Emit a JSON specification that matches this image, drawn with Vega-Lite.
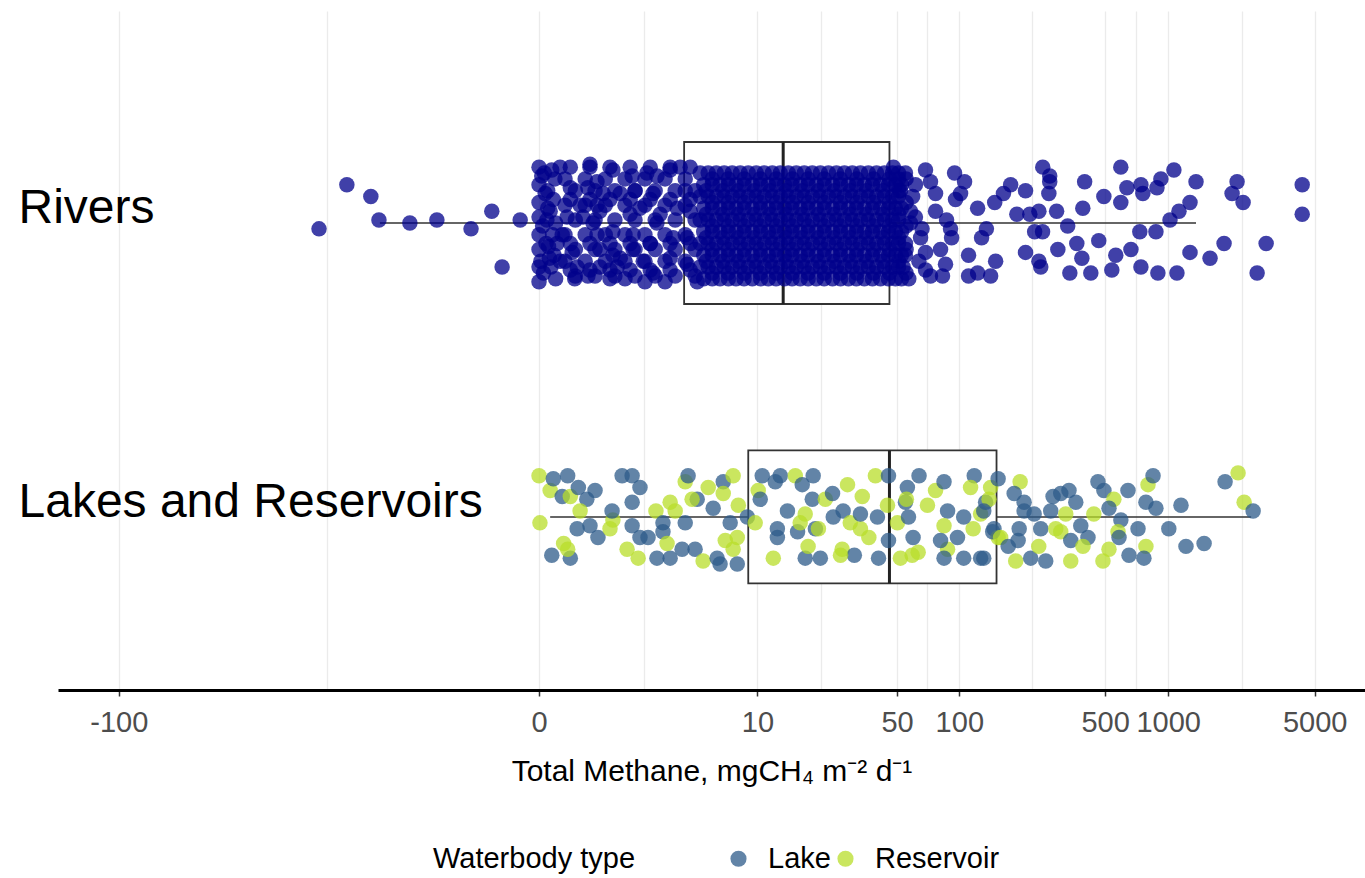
{
"$schema": "https://vega.github.io/schema/vega-lite/v6.json",
"width": 1307,
"height": 679,
"autosize": {"type": "none"},
"padding": {"left": 58, "top": 11, "right": 0, "bottom": 188},
"background": "white",
"config": {"view": {"stroke": null}, "font": "Liberation Sans"},
"datasets": {
"whisk": [
{"c":"Rivers","v":-4.74,"v2":3.92},{"c":"Rivers","v":45.9,"v2":1358},
{"c":"Lakes and Reservoirs","v":0.13,"v2":8.95},{"c":"Lakes and Reservoirs","v":151,"v2":2488}
],
"box": [
{"c":"Rivers","v":3.92,"v2":45.9},{"c":"Lakes and Reservoirs","v":8.95,"v2":151}
],
"med": [
{"c":"Rivers","v":13.6},{"c":"Lakes and Reservoirs","v":45.9}
],
"pts": [
{"c":"Rivers","t":"River","v":-10.2,"j":0.02},
{"c":"Rivers","t":"River","v":-7.25,"j":-0.13},
{"c":"Rivers","t":"River","v":-5.34,"j":-0.09},
{"c":"Rivers","t":"River","v":-4.8,"j":-0.01},
{"c":"Rivers","t":"River","v":-3.13,"j":0},
{"c":"Rivers","t":"River","v":-2.07,"j":-0.01},
{"c":"Rivers","t":"River","v":-1.11,"j":0.02},
{"c":"Rivers","t":"River","v":-0.68,"j":-0.04},
{"c":"Rivers","t":"River","v":-0.5,"j":0.15},
{"c":"Rivers","t":"River","v":-0.23,"j":-0.01},
{"c":"Rivers","t":"River","v":0,"j":-0.19},
{"c":"Rivers","t":"River","v":0.03,"j":-0.16},
{"c":"Rivers","t":"River","v":0,"j":-0.13},
{"c":"Rivers","t":"River","v":0.07,"j":-0.10},
{"c":"Rivers","t":"River","v":0,"j":-0.07},
{"c":"Rivers","t":"River","v":0.1,"j":-0.05},
{"c":"Rivers","t":"River","v":0,"j":-0.02},
{"c":"Rivers","t":"River","v":0.04,"j":0.01},
{"c":"Rivers","t":"River","v":0,"j":0.04},
{"c":"Rivers","t":"River","v":0.08,"j":0.07},
{"c":"Rivers","t":"River","v":0,"j":0.09},
{"c":"Rivers","t":"River","v":0.12,"j":0.12},
{"c":"Rivers","t":"River","v":0,"j":0.15},
{"c":"Rivers","t":"River","v":0.05,"j":0.17},
{"c":"Rivers","t":"River","v":0,"j":0.2},
{"c":"Rivers","t":"River","v":0.15,"j":-0.18},
{"c":"Rivers","t":"River","v":0.19,"j":-0.15},
{"c":"Rivers","t":"River","v":0.1,"j":-0.11},
{"c":"Rivers","t":"River","v":0.17,"j":-0.08},
{"c":"Rivers","t":"River","v":0.13,"j":-0.04},
{"c":"Rivers","t":"River","v":0.2,"j":0},
{"c":"Rivers","t":"River","v":0.16,"j":0.04},
{"c":"Rivers","t":"River","v":0.11,"j":0.08},
{"c":"Rivers","t":"River","v":0.18,"j":0.11},
{"c":"Rivers","t":"River","v":0.14,"j":0.15},
{"c":"Rivers","t":"River","v":0.2,"j":0.19},
{"c":"Rivers","t":"River","v":0.06,"j":-0.17},
{"c":"Rivers","t":"River","v":0.09,"j":-0.01},
{"c":"Rivers","t":"River","v":0.02,"j":0.13},
{"c":"Rivers","t":"River","v":0.22,"j":0.07},
{"c":"Rivers","t":"River","v":0.26,"j":-0.19},
{"c":"Rivers","t":"River","v":0.41,"j":-0.12},
{"c":"Rivers","t":"River","v":0.57,"j":-0.06},
{"c":"Rivers","t":"River","v":0.29,"j":0.04},
{"c":"Rivers","t":"River","v":0.44,"j":0.1},
{"c":"Rivers","t":"River","v":0.26,"j":0.13},
{"c":"Rivers","t":"River","v":0.52,"j":0.15},
{"c":"Rivers","t":"River","v":0.71,"j":0.18},
{"c":"Rivers","t":"River","v":0.95,"j":0.15},
{"c":"Rivers","t":"River","v":0.95,"j":0.09},
{"c":"Rivers","t":"River","v":0.89,"j":0.04},
{"c":"Rivers","t":"River","v":1.25,"j":0.03},
{"c":"Rivers","t":"River","v":1.25,"j":0.11},
{"c":"Rivers","t":"River","v":1.36,"j":0.15},
{"c":"Rivers","t":"River","v":1.18,"j":0.19},
{"c":"Rivers","t":"River","v":0.89,"j":-0.14},
{"c":"Rivers","t":"River","v":1.25,"j":-0.18},
{"c":"Rivers","t":"River","v":1.44,"j":-0.1},
{"c":"Rivers","t":"River","v":1.02,"j":-0.1},
{"c":"Rivers","t":"River","v":1.78,"j":-0.16},
{"c":"Rivers","t":"River","v":1.87,"j":-0.11},
{"c":"Rivers","t":"River","v":2.27,"j":-0.17},
{"c":"Rivers","t":"River","v":2.65,"j":-0.16},
{"c":"Rivers","t":"River","v":3.22,"j":-0.18},
{"c":"Rivers","t":"River","v":2.5,"j":-0.1},
{"c":"Rivers","t":"River","v":2.03,"j":-0.05},
{"c":"Rivers","t":"River","v":2.65,"j":0},
{"c":"Rivers","t":"River","v":1.81,"j":0.04},
{"c":"Rivers","t":"River","v":1.81,"j":0.09},
{"c":"Rivers","t":"River","v":2.39,"j":0.07},
{"c":"Rivers","t":"River","v":2.14,"j":0.13},
{"c":"Rivers","t":"River","v":2.5,"j":0.17},
{"c":"Rivers","t":"River","v":3.22,"j":0.12},
{"c":"Rivers","t":"River","v":3.36,"j":0.05},
{"c":"Rivers","t":"River","v":3.56,"j":-0.05},
{"c":"Rivers","t":"River","v":3.98,"j":-0.11},
{"c":"Rivers","t":"River","v":4.26,"j":-0.04},
{"c":"Rivers","t":"River","v":4.09,"j":0.05},
{"c":"Rivers","t":"River","v":4.09,"j":0.14},
{"c":"Rivers","t":"River","v":4.68,"j":0.2},
{"c":"Rivers","t":"River","v":2.78,"j":-0.03},
{"c":"Rivers","t":"River","v":1.72,"j":-0.03},
{"c":"Rivers","t":"River","v":0.62,"j":-0.02},
{"c":"Rivers","t":"River","v":0.36,"j":-0.02},
{"c":"Rivers","t":"River","v":0.81,"j":0},
{"c":"Rivers","t":"River","v":0.95,"j":-0.04},
{"c":"Rivers","t":"River","v":0.71,"j":-0.12},
{"c":"Rivers","t":"River","v":0.89,"j":-0.06},
{"c":"Rivers","t":"River","v":0.48,"j":0.19},
{"c":"Rivers","t":"River","v":0.75,"j":-0.2},
{"c":"Rivers","t":"River","v":1.57,"j":0.19},
{"c":"Rivers","t":"River","v":2.2,"j":0.2},
{"c":"Rivers","t":"River","v":2.99,"j":0.2},
{"c":"Rivers","t":"River","v":3.71,"j":-0.19},
{"c":"Rivers","t":"River","v":1.44,"j":0.12},
{"c":"Rivers","t":"River","v":0.33,"j":-0.15},{"c":"Rivers","t":"River","v":0.66,"j":-0.15},{"c":"Rivers","t":"River","v":1.07,"j":-0.15},{"c":"Rivers","t":"River","v":1.57,"j":-0.15},{"c":"Rivers","t":"River","v":2.2,"j":-0.15},{"c":"Rivers","t":"River","v":2.99,"j":-0.15},{"c":"Rivers","t":"River","v":3.98,"j":-0.15},
{"c":"Rivers","t":"River","v":0.33,"j":-0.06},{"c":"Rivers","t":"River","v":0.66,"j":-0.06},{"c":"Rivers","t":"River","v":1.07,"j":-0.06},{"c":"Rivers","t":"River","v":1.57,"j":-0.06},{"c":"Rivers","t":"River","v":2.2,"j":-0.06},{"c":"Rivers","t":"River","v":2.99,"j":-0.06},{"c":"Rivers","t":"River","v":3.98,"j":-0.06},
{"c":"Rivers","t":"River","v":0.33,"j":0.04},{"c":"Rivers","t":"River","v":0.66,"j":0.04},{"c":"Rivers","t":"River","v":1.07,"j":0.04},{"c":"Rivers","t":"River","v":1.57,"j":0.04},{"c":"Rivers","t":"River","v":2.2,"j":0.04},{"c":"Rivers","t":"River","v":2.99,"j":0.04},{"c":"Rivers","t":"River","v":3.98,"j":0.04},
{"c":"Rivers","t":"River","v":0.33,"j":0.13},{"c":"Rivers","t":"River","v":0.66,"j":0.13},{"c":"Rivers","t":"River","v":1.07,"j":0.13},{"c":"Rivers","t":"River","v":1.57,"j":0.13},{"c":"Rivers","t":"River","v":2.2,"j":0.13},{"c":"Rivers","t":"River","v":2.99,"j":0.13},{"c":"Rivers","t":"River","v":3.98,"j":0.13},
{"c":"Rivers","t":"River","v":0.49,"j":-0.11},{"c":"Rivers","t":"River","v":0.85,"j":-0.11},{"c":"Rivers","t":"River","v":1.3,"j":-0.11},{"c":"Rivers","t":"River","v":1.87,"j":-0.11},{"c":"Rivers","t":"River","v":2.58,"j":-0.11},{"c":"Rivers","t":"River","v":3.46,"j":-0.11},{"c":"Rivers","t":"River","v":4.55,"j":-0.11},
{"c":"Rivers","t":"River","v":0.49,"j":-0.01},{"c":"Rivers","t":"River","v":0.85,"j":-0.01},{"c":"Rivers","t":"River","v":1.3,"j":-0.01},{"c":"Rivers","t":"River","v":1.87,"j":-0.01},{"c":"Rivers","t":"River","v":2.58,"j":-0.01},{"c":"Rivers","t":"River","v":3.46,"j":-0.01},{"c":"Rivers","t":"River","v":4.55,"j":-0.01},
{"c":"Rivers","t":"River","v":0.49,"j":0.09},{"c":"Rivers","t":"River","v":0.85,"j":0.09},{"c":"Rivers","t":"River","v":1.3,"j":0.09},{"c":"Rivers","t":"River","v":1.87,"j":0.09},{"c":"Rivers","t":"River","v":2.58,"j":0.09},{"c":"Rivers","t":"River","v":3.46,"j":0.09},{"c":"Rivers","t":"River","v":4.55,"j":0.09},
{"c":"Rivers","t":"River","v":0.49,"j":0.18},{"c":"Rivers","t":"River","v":0.85,"j":0.18},{"c":"Rivers","t":"River","v":1.3,"j":0.18},{"c":"Rivers","t":"River","v":1.87,"j":0.18},{"c":"Rivers","t":"River","v":2.58,"j":0.18},{"c":"Rivers","t":"River","v":3.46,"j":0.18},{"c":"Rivers","t":"River","v":4.55,"j":0.18},
{"c":"Rivers","t":"River","v":0.41,"j":-0.19},{"c":"Rivers","t":"River","v":0.75,"j":-0.19},{"c":"Rivers","t":"River","v":1.18,"j":-0.19},{"c":"Rivers","t":"River","v":1.72,"j":-0.19},{"c":"Rivers","t":"River","v":2.39,"j":-0.19},{"c":"Rivers","t":"River","v":3.22,"j":-0.19},{"c":"Rivers","t":"River","v":4.26,"j":-0.19},
{"c":"Rivers","t":"River","v":0.41,"j":-0.08},{"c":"Rivers","t":"River","v":0.75,"j":-0.08},{"c":"Rivers","t":"River","v":1.18,"j":-0.08},{"c":"Rivers","t":"River","v":1.72,"j":-0.08},{"c":"Rivers","t":"River","v":2.39,"j":-0.08},{"c":"Rivers","t":"River","v":3.22,"j":-0.08},{"c":"Rivers","t":"River","v":4.26,"j":-0.08},
{"c":"Rivers","t":"River","v":0.41,"j":0.07},{"c":"Rivers","t":"River","v":0.75,"j":0.07},{"c":"Rivers","t":"River","v":1.18,"j":0.07},{"c":"Rivers","t":"River","v":1.72,"j":0.07},{"c":"Rivers","t":"River","v":2.39,"j":0.07},{"c":"Rivers","t":"River","v":3.22,"j":0.07},{"c":"Rivers","t":"River","v":4.26,"j":0.07},
{"c":"Rivers","t":"River","v":0.41,"j":0.16},{"c":"Rivers","t":"River","v":0.75,"j":0.16},{"c":"Rivers","t":"River","v":1.18,"j":0.16},{"c":"Rivers","t":"River","v":1.72,"j":0.16},{"c":"Rivers","t":"River","v":2.39,"j":0.16},{"c":"Rivers","t":"River","v":3.22,"j":0.16},{"c":"Rivers","t":"River","v":4.26,"j":0.16},
{"c":"Rivers","t":"River","v":4.87,"j":-0.17},{"c":"Rivers","t":"River","v":5.41,"j":-0.17},{"c":"Rivers","t":"River","v":6.0,"j":-0.17},{"c":"Rivers","t":"River","v":6.64,"j":-0.17},{"c":"Rivers","t":"River","v":7.34,"j":-0.17},{"c":"Rivers","t":"River","v":8.11,"j":-0.17},{"c":"Rivers","t":"River","v":8.95,"j":-0.17},{"c":"Rivers","t":"River","v":9.86,"j":-0.17},{"c":"Rivers","t":"River","v":10.86,"j":-0.17},{"c":"Rivers","t":"River","v":11.96,"j":-0.17},{"c":"Rivers","t":"River","v":13.14,"j":-0.17},{"c":"Rivers","t":"River","v":14.45,"j":-0.17},{"c":"Rivers","t":"River","v":15.86,"j":-0.17},{"c":"Rivers","t":"River","v":17.4,"j":-0.17},{"c":"Rivers","t":"River","v":19.1,"j":-0.17},{"c":"Rivers","t":"River","v":20.96,"j":-0.17},{"c":"Rivers","t":"River","v":23.0,"j":-0.17},{"c":"Rivers","t":"River","v":25.2,"j":-0.17},{"c":"Rivers","t":"River","v":27.6,"j":-0.17},{"c":"Rivers","t":"River","v":30.2,"j":-0.17},{"c":"Rivers","t":"River","v":33.1,"j":-0.17},{"c":"Rivers","t":"River","v":36.2,"j":-0.17},{"c":"Rivers","t":"River","v":39.7,"j":-0.17},{"c":"Rivers","t":"River","v":43.4,"j":-0.17},{"c":"Rivers","t":"River","v":47.5,"j":-0.17},{"c":"Rivers","t":"River","v":50.8,"j":-0.17},
{"c":"Rivers","t":"River","v":5.1,"j":-0.13},{"c":"Rivers","t":"River","v":5.7,"j":-0.13},{"c":"Rivers","t":"River","v":6.3,"j":-0.13},{"c":"Rivers","t":"River","v":7.0,"j":-0.13},{"c":"Rivers","t":"River","v":7.7,"j":-0.13},{"c":"Rivers","t":"River","v":8.5,"j":-0.13},{"c":"Rivers","t":"River","v":9.4,"j":-0.13},{"c":"Rivers","t":"River","v":10.4,"j":-0.13},{"c":"Rivers","t":"River","v":11.4,"j":-0.13},{"c":"Rivers","t":"River","v":12.5,"j":-0.13},{"c":"Rivers","t":"River","v":13.8,"j":-0.13},{"c":"Rivers","t":"River","v":15.1,"j":-0.13},{"c":"Rivers","t":"River","v":16.6,"j":-0.13},{"c":"Rivers","t":"River","v":18.2,"j":-0.13},{"c":"Rivers","t":"River","v":20,"j":-0.13},{"c":"Rivers","t":"River","v":21.9,"j":-0.13},{"c":"Rivers","t":"River","v":24.1,"j":-0.13},{"c":"Rivers","t":"River","v":26.4,"j":-0.13},{"c":"Rivers","t":"River","v":28.9,"j":-0.13},{"c":"Rivers","t":"River","v":31.6,"j":-0.13},{"c":"Rivers","t":"River","v":34.6,"j":-0.13},{"c":"Rivers","t":"River","v":37.9,"j":-0.13},{"c":"Rivers","t":"River","v":41.5,"j":-0.13},{"c":"Rivers","t":"River","v":45.4,"j":-0.13},{"c":"Rivers","t":"River","v":49.1,"j":-0.13},{"c":"Rivers","t":"River","v":52.5,"j":-0.13},
{"c":"Rivers","t":"River","v":4.87,"j":-0.09},{"c":"Rivers","t":"River","v":5.41,"j":-0.09},{"c":"Rivers","t":"River","v":6.0,"j":-0.09},{"c":"Rivers","t":"River","v":6.64,"j":-0.09},{"c":"Rivers","t":"River","v":7.34,"j":-0.09},{"c":"Rivers","t":"River","v":8.11,"j":-0.09},{"c":"Rivers","t":"River","v":8.95,"j":-0.09},{"c":"Rivers","t":"River","v":9.86,"j":-0.09},{"c":"Rivers","t":"River","v":10.86,"j":-0.09},{"c":"Rivers","t":"River","v":11.96,"j":-0.09},{"c":"Rivers","t":"River","v":13.14,"j":-0.09},{"c":"Rivers","t":"River","v":14.45,"j":-0.09},{"c":"Rivers","t":"River","v":15.86,"j":-0.09},{"c":"Rivers","t":"River","v":17.4,"j":-0.09},{"c":"Rivers","t":"River","v":19.1,"j":-0.09},{"c":"Rivers","t":"River","v":20.96,"j":-0.09},{"c":"Rivers","t":"River","v":23.0,"j":-0.09},{"c":"Rivers","t":"River","v":25.2,"j":-0.09},{"c":"Rivers","t":"River","v":27.6,"j":-0.09},{"c":"Rivers","t":"River","v":30.2,"j":-0.09},{"c":"Rivers","t":"River","v":33.1,"j":-0.09},{"c":"Rivers","t":"River","v":36.2,"j":-0.09},{"c":"Rivers","t":"River","v":39.7,"j":-0.09},{"c":"Rivers","t":"River","v":43.4,"j":-0.09},{"c":"Rivers","t":"River","v":47.5,"j":-0.09},{"c":"Rivers","t":"River","v":50.8,"j":-0.09},
{"c":"Rivers","t":"River","v":5.1,"j":-0.05},{"c":"Rivers","t":"River","v":5.7,"j":-0.05},{"c":"Rivers","t":"River","v":6.3,"j":-0.05},{"c":"Rivers","t":"River","v":7.0,"j":-0.05},{"c":"Rivers","t":"River","v":7.7,"j":-0.05},{"c":"Rivers","t":"River","v":8.5,"j":-0.05},{"c":"Rivers","t":"River","v":9.4,"j":-0.05},{"c":"Rivers","t":"River","v":10.4,"j":-0.05},{"c":"Rivers","t":"River","v":11.4,"j":-0.05},{"c":"Rivers","t":"River","v":12.5,"j":-0.05},{"c":"Rivers","t":"River","v":13.8,"j":-0.05},{"c":"Rivers","t":"River","v":15.1,"j":-0.05},{"c":"Rivers","t":"River","v":16.6,"j":-0.05},{"c":"Rivers","t":"River","v":18.2,"j":-0.05},{"c":"Rivers","t":"River","v":20,"j":-0.05},{"c":"Rivers","t":"River","v":21.9,"j":-0.05},{"c":"Rivers","t":"River","v":24.1,"j":-0.05},{"c":"Rivers","t":"River","v":26.4,"j":-0.05},{"c":"Rivers","t":"River","v":28.9,"j":-0.05},{"c":"Rivers","t":"River","v":31.6,"j":-0.05},{"c":"Rivers","t":"River","v":34.6,"j":-0.05},{"c":"Rivers","t":"River","v":37.9,"j":-0.05},{"c":"Rivers","t":"River","v":41.5,"j":-0.05},{"c":"Rivers","t":"River","v":45.4,"j":-0.05},{"c":"Rivers","t":"River","v":49.1,"j":-0.05},{"c":"Rivers","t":"River","v":52.5,"j":-0.05},
{"c":"Rivers","t":"River","v":4.87,"j":-0.01},{"c":"Rivers","t":"River","v":5.41,"j":-0.01},{"c":"Rivers","t":"River","v":6.0,"j":-0.01},{"c":"Rivers","t":"River","v":6.64,"j":-0.01},{"c":"Rivers","t":"River","v":7.34,"j":-0.01},{"c":"Rivers","t":"River","v":8.11,"j":-0.01},{"c":"Rivers","t":"River","v":8.95,"j":-0.01},{"c":"Rivers","t":"River","v":9.86,"j":-0.01},{"c":"Rivers","t":"River","v":10.86,"j":-0.01},{"c":"Rivers","t":"River","v":11.96,"j":-0.01},{"c":"Rivers","t":"River","v":13.14,"j":-0.01},{"c":"Rivers","t":"River","v":14.45,"j":-0.01},{"c":"Rivers","t":"River","v":15.86,"j":-0.01},{"c":"Rivers","t":"River","v":17.4,"j":-0.01},{"c":"Rivers","t":"River","v":19.1,"j":-0.01},{"c":"Rivers","t":"River","v":20.96,"j":-0.01},{"c":"Rivers","t":"River","v":23.0,"j":-0.01},{"c":"Rivers","t":"River","v":25.2,"j":-0.01},{"c":"Rivers","t":"River","v":27.6,"j":-0.01},{"c":"Rivers","t":"River","v":30.2,"j":-0.01},{"c":"Rivers","t":"River","v":33.1,"j":-0.01},{"c":"Rivers","t":"River","v":36.2,"j":-0.01},{"c":"Rivers","t":"River","v":39.7,"j":-0.01},{"c":"Rivers","t":"River","v":43.4,"j":-0.01},{"c":"Rivers","t":"River","v":47.5,"j":-0.01},{"c":"Rivers","t":"River","v":50.8,"j":-0.01},
{"c":"Rivers","t":"River","v":5.1,"j":0.03},{"c":"Rivers","t":"River","v":5.7,"j":0.03},{"c":"Rivers","t":"River","v":6.3,"j":0.03},{"c":"Rivers","t":"River","v":7.0,"j":0.03},{"c":"Rivers","t":"River","v":7.7,"j":0.03},{"c":"Rivers","t":"River","v":8.5,"j":0.03},{"c":"Rivers","t":"River","v":9.4,"j":0.03},{"c":"Rivers","t":"River","v":10.4,"j":0.03},{"c":"Rivers","t":"River","v":11.4,"j":0.03},{"c":"Rivers","t":"River","v":12.5,"j":0.03},{"c":"Rivers","t":"River","v":13.8,"j":0.03},{"c":"Rivers","t":"River","v":15.1,"j":0.03},{"c":"Rivers","t":"River","v":16.6,"j":0.03},{"c":"Rivers","t":"River","v":18.2,"j":0.03},{"c":"Rivers","t":"River","v":20,"j":0.03},{"c":"Rivers","t":"River","v":21.9,"j":0.03},{"c":"Rivers","t":"River","v":24.1,"j":0.03},{"c":"Rivers","t":"River","v":26.4,"j":0.03},{"c":"Rivers","t":"River","v":28.9,"j":0.03},{"c":"Rivers","t":"River","v":31.6,"j":0.03},{"c":"Rivers","t":"River","v":34.6,"j":0.03},{"c":"Rivers","t":"River","v":37.9,"j":0.03},{"c":"Rivers","t":"River","v":41.5,"j":0.03},{"c":"Rivers","t":"River","v":45.4,"j":0.03},{"c":"Rivers","t":"River","v":49.1,"j":0.03},{"c":"Rivers","t":"River","v":52.5,"j":0.03},
{"c":"Rivers","t":"River","v":4.87,"j":0.07},{"c":"Rivers","t":"River","v":5.41,"j":0.07},{"c":"Rivers","t":"River","v":6.0,"j":0.07},{"c":"Rivers","t":"River","v":6.64,"j":0.07},{"c":"Rivers","t":"River","v":7.34,"j":0.07},{"c":"Rivers","t":"River","v":8.11,"j":0.07},{"c":"Rivers","t":"River","v":8.95,"j":0.07},{"c":"Rivers","t":"River","v":9.86,"j":0.07},{"c":"Rivers","t":"River","v":10.86,"j":0.07},{"c":"Rivers","t":"River","v":11.96,"j":0.07},{"c":"Rivers","t":"River","v":13.14,"j":0.07},{"c":"Rivers","t":"River","v":14.45,"j":0.07},{"c":"Rivers","t":"River","v":15.86,"j":0.07},{"c":"Rivers","t":"River","v":17.4,"j":0.07},{"c":"Rivers","t":"River","v":19.1,"j":0.07},{"c":"Rivers","t":"River","v":20.96,"j":0.07},{"c":"Rivers","t":"River","v":23.0,"j":0.07},{"c":"Rivers","t":"River","v":25.2,"j":0.07},{"c":"Rivers","t":"River","v":27.6,"j":0.07},{"c":"Rivers","t":"River","v":30.2,"j":0.07},{"c":"Rivers","t":"River","v":33.1,"j":0.07},{"c":"Rivers","t":"River","v":36.2,"j":0.07},{"c":"Rivers","t":"River","v":39.7,"j":0.07},{"c":"Rivers","t":"River","v":43.4,"j":0.07},{"c":"Rivers","t":"River","v":47.5,"j":0.07},{"c":"Rivers","t":"River","v":50.8,"j":0.07},
{"c":"Rivers","t":"River","v":5.1,"j":0.11},{"c":"Rivers","t":"River","v":5.7,"j":0.11},{"c":"Rivers","t":"River","v":6.3,"j":0.11},{"c":"Rivers","t":"River","v":7.0,"j":0.11},{"c":"Rivers","t":"River","v":7.7,"j":0.11},{"c":"Rivers","t":"River","v":8.5,"j":0.11},{"c":"Rivers","t":"River","v":9.4,"j":0.11},{"c":"Rivers","t":"River","v":10.4,"j":0.11},{"c":"Rivers","t":"River","v":11.4,"j":0.11},{"c":"Rivers","t":"River","v":12.5,"j":0.11},{"c":"Rivers","t":"River","v":13.8,"j":0.11},{"c":"Rivers","t":"River","v":15.1,"j":0.11},{"c":"Rivers","t":"River","v":16.6,"j":0.11},{"c":"Rivers","t":"River","v":18.2,"j":0.11},{"c":"Rivers","t":"River","v":20,"j":0.11},{"c":"Rivers","t":"River","v":21.9,"j":0.11},{"c":"Rivers","t":"River","v":24.1,"j":0.11},{"c":"Rivers","t":"River","v":26.4,"j":0.11},{"c":"Rivers","t":"River","v":28.9,"j":0.11},{"c":"Rivers","t":"River","v":31.6,"j":0.11},{"c":"Rivers","t":"River","v":34.6,"j":0.11},{"c":"Rivers","t":"River","v":37.9,"j":0.11},{"c":"Rivers","t":"River","v":41.5,"j":0.11},{"c":"Rivers","t":"River","v":45.4,"j":0.11},{"c":"Rivers","t":"River","v":49.1,"j":0.11},{"c":"Rivers","t":"River","v":52.5,"j":0.11},
{"c":"Rivers","t":"River","v":4.87,"j":0.15},{"c":"Rivers","t":"River","v":5.41,"j":0.15},{"c":"Rivers","t":"River","v":6.0,"j":0.15},{"c":"Rivers","t":"River","v":6.64,"j":0.15},{"c":"Rivers","t":"River","v":7.34,"j":0.15},{"c":"Rivers","t":"River","v":8.11,"j":0.15},{"c":"Rivers","t":"River","v":8.95,"j":0.15},{"c":"Rivers","t":"River","v":9.86,"j":0.15},{"c":"Rivers","t":"River","v":10.86,"j":0.15},{"c":"Rivers","t":"River","v":11.96,"j":0.15},{"c":"Rivers","t":"River","v":13.14,"j":0.15},{"c":"Rivers","t":"River","v":14.45,"j":0.15},{"c":"Rivers","t":"River","v":15.86,"j":0.15},{"c":"Rivers","t":"River","v":17.4,"j":0.15},{"c":"Rivers","t":"River","v":19.1,"j":0.15},{"c":"Rivers","t":"River","v":20.96,"j":0.15},{"c":"Rivers","t":"River","v":23.0,"j":0.15},{"c":"Rivers","t":"River","v":25.2,"j":0.15},{"c":"Rivers","t":"River","v":27.6,"j":0.15},{"c":"Rivers","t":"River","v":30.2,"j":0.15},{"c":"Rivers","t":"River","v":33.1,"j":0.15},{"c":"Rivers","t":"River","v":36.2,"j":0.15},{"c":"Rivers","t":"River","v":39.7,"j":0.15},{"c":"Rivers","t":"River","v":43.4,"j":0.15},{"c":"Rivers","t":"River","v":47.5,"j":0.15},{"c":"Rivers","t":"River","v":50.8,"j":0.15},
{"c":"Rivers","t":"River","v":5.1,"j":0.19},{"c":"Rivers","t":"River","v":5.7,"j":0.19},{"c":"Rivers","t":"River","v":6.3,"j":0.19},{"c":"Rivers","t":"River","v":7.0,"j":0.19},{"c":"Rivers","t":"River","v":7.7,"j":0.19},{"c":"Rivers","t":"River","v":8.5,"j":0.19},{"c":"Rivers","t":"River","v":9.4,"j":0.19},{"c":"Rivers","t":"River","v":10.4,"j":0.19},{"c":"Rivers","t":"River","v":11.4,"j":0.19},{"c":"Rivers","t":"River","v":12.5,"j":0.19},{"c":"Rivers","t":"River","v":13.8,"j":0.19},{"c":"Rivers","t":"River","v":15.1,"j":0.19},{"c":"Rivers","t":"River","v":16.6,"j":0.19},{"c":"Rivers","t":"River","v":18.2,"j":0.19},{"c":"Rivers","t":"River","v":20,"j":0.19},{"c":"Rivers","t":"River","v":21.9,"j":0.19},{"c":"Rivers","t":"River","v":24.1,"j":0.19},{"c":"Rivers","t":"River","v":26.4,"j":0.19},{"c":"Rivers","t":"River","v":28.9,"j":0.19},{"c":"Rivers","t":"River","v":31.6,"j":0.19},{"c":"Rivers","t":"River","v":34.6,"j":0.19},{"c":"Rivers","t":"River","v":37.9,"j":0.19},{"c":"Rivers","t":"River","v":41.5,"j":0.19},{"c":"Rivers","t":"River","v":45.4,"j":0.19},{"c":"Rivers","t":"River","v":49.1,"j":0.19},{"c":"Rivers","t":"River","v":52.5,"j":0.19},
{"c":"Rivers","t":"River","v":5.7,"j":-0.15},{"c":"Rivers","t":"River","v":6.98,"j":-0.15},{"c":"Rivers","t":"River","v":8.52,"j":-0.15},{"c":"Rivers","t":"River","v":10.35,"j":-0.15},{"c":"Rivers","t":"River","v":12.53,"j":-0.15},{"c":"Rivers","t":"River","v":15.15,"j":-0.15},{"c":"Rivers","t":"River","v":18.2,"j":-0.15},{"c":"Rivers","t":"River","v":21.9,"j":-0.15},{"c":"Rivers","t":"River","v":26.36,"j":-0.15},{"c":"Rivers","t":"River","v":31.8,"j":-0.15},{"c":"Rivers","t":"River","v":38.4,"j":-0.15},{"c":"Rivers","t":"River","v":45.9,"j":-0.15},{"c":"Rivers","t":"River","v":55.3,"j":-0.15},
{"c":"Rivers","t":"River","v":5.27,"j":-0.11},{"c":"Rivers","t":"River","v":6.52,"j":-0.11},{"c":"Rivers","t":"River","v":7.92,"j":-0.11},{"c":"Rivers","t":"River","v":9.63,"j":-0.11},{"c":"Rivers","t":"River","v":11.67,"j":-0.11},{"c":"Rivers","t":"River","v":14.1,"j":-0.11},{"c":"Rivers","t":"River","v":17.0,"j":-0.11},{"c":"Rivers","t":"River","v":20.5,"j":-0.11},{"c":"Rivers","t":"River","v":24.6,"j":-0.11},{"c":"Rivers","t":"River","v":29.54,"j":-0.11},{"c":"Rivers","t":"River","v":35.4,"j":-0.11},{"c":"Rivers","t":"River","v":42.6,"j":-0.11},{"c":"Rivers","t":"River","v":50.9,"j":-0.11},
{"c":"Rivers","t":"River","v":5.7,"j":-0.07},{"c":"Rivers","t":"River","v":6.98,"j":-0.07},{"c":"Rivers","t":"River","v":8.52,"j":-0.07},{"c":"Rivers","t":"River","v":10.35,"j":-0.07},{"c":"Rivers","t":"River","v":12.53,"j":-0.07},{"c":"Rivers","t":"River","v":15.15,"j":-0.07},{"c":"Rivers","t":"River","v":18.2,"j":-0.07},{"c":"Rivers","t":"River","v":21.9,"j":-0.07},{"c":"Rivers","t":"River","v":26.36,"j":-0.07},{"c":"Rivers","t":"River","v":31.8,"j":-0.07},{"c":"Rivers","t":"River","v":38.4,"j":-0.07},{"c":"Rivers","t":"River","v":45.9,"j":-0.07},{"c":"Rivers","t":"River","v":55.3,"j":-0.07},
{"c":"Rivers","t":"River","v":5.27,"j":-0.03},{"c":"Rivers","t":"River","v":6.52,"j":-0.03},{"c":"Rivers","t":"River","v":7.92,"j":-0.03},{"c":"Rivers","t":"River","v":9.63,"j":-0.03},{"c":"Rivers","t":"River","v":11.67,"j":-0.03},{"c":"Rivers","t":"River","v":14.1,"j":-0.03},{"c":"Rivers","t":"River","v":17.0,"j":-0.03},{"c":"Rivers","t":"River","v":20.5,"j":-0.03},{"c":"Rivers","t":"River","v":24.6,"j":-0.03},{"c":"Rivers","t":"River","v":29.54,"j":-0.03},{"c":"Rivers","t":"River","v":35.4,"j":-0.03},{"c":"Rivers","t":"River","v":42.6,"j":-0.03},{"c":"Rivers","t":"River","v":50.9,"j":-0.03},
{"c":"Rivers","t":"River","v":5.7,"j":0.01},{"c":"Rivers","t":"River","v":6.98,"j":0.01},{"c":"Rivers","t":"River","v":8.52,"j":0.01},{"c":"Rivers","t":"River","v":10.35,"j":0.01},{"c":"Rivers","t":"River","v":12.53,"j":0.01},{"c":"Rivers","t":"River","v":15.15,"j":0.01},{"c":"Rivers","t":"River","v":18.2,"j":0.01},{"c":"Rivers","t":"River","v":21.9,"j":0.01},{"c":"Rivers","t":"River","v":26.36,"j":0.01},{"c":"Rivers","t":"River","v":31.8,"j":0.01},{"c":"Rivers","t":"River","v":38.4,"j":0.01},{"c":"Rivers","t":"River","v":45.9,"j":0.01},{"c":"Rivers","t":"River","v":55.3,"j":0.01},
{"c":"Rivers","t":"River","v":5.27,"j":0.05},{"c":"Rivers","t":"River","v":6.52,"j":0.05},{"c":"Rivers","t":"River","v":7.92,"j":0.05},{"c":"Rivers","t":"River","v":9.63,"j":0.05},{"c":"Rivers","t":"River","v":11.67,"j":0.05},{"c":"Rivers","t":"River","v":14.1,"j":0.05},{"c":"Rivers","t":"River","v":17.0,"j":0.05},{"c":"Rivers","t":"River","v":20.5,"j":0.05},{"c":"Rivers","t":"River","v":24.6,"j":0.05},{"c":"Rivers","t":"River","v":29.54,"j":0.05},{"c":"Rivers","t":"River","v":35.4,"j":0.05},{"c":"Rivers","t":"River","v":42.6,"j":0.05},{"c":"Rivers","t":"River","v":50.9,"j":0.05},
{"c":"Rivers","t":"River","v":5.7,"j":0.09},{"c":"Rivers","t":"River","v":6.98,"j":0.09},{"c":"Rivers","t":"River","v":8.52,"j":0.09},{"c":"Rivers","t":"River","v":10.35,"j":0.09},{"c":"Rivers","t":"River","v":12.53,"j":0.09},{"c":"Rivers","t":"River","v":15.15,"j":0.09},{"c":"Rivers","t":"River","v":18.2,"j":0.09},{"c":"Rivers","t":"River","v":21.9,"j":0.09},{"c":"Rivers","t":"River","v":26.36,"j":0.09},{"c":"Rivers","t":"River","v":31.8,"j":0.09},{"c":"Rivers","t":"River","v":38.4,"j":0.09},{"c":"Rivers","t":"River","v":45.9,"j":0.09},{"c":"Rivers","t":"River","v":55.3,"j":0.09},
{"c":"Rivers","t":"River","v":5.27,"j":0.13},{"c":"Rivers","t":"River","v":6.52,"j":0.13},{"c":"Rivers","t":"River","v":7.92,"j":0.13},{"c":"Rivers","t":"River","v":9.63,"j":0.13},{"c":"Rivers","t":"River","v":11.67,"j":0.13},{"c":"Rivers","t":"River","v":14.1,"j":0.13},{"c":"Rivers","t":"River","v":17.0,"j":0.13},{"c":"Rivers","t":"River","v":20.5,"j":0.13},{"c":"Rivers","t":"River","v":24.6,"j":0.13},{"c":"Rivers","t":"River","v":29.54,"j":0.13},{"c":"Rivers","t":"River","v":35.4,"j":0.13},{"c":"Rivers","t":"River","v":42.6,"j":0.13},{"c":"Rivers","t":"River","v":50.9,"j":0.13},
{"c":"Rivers","t":"River","v":5.7,"j":0.17},{"c":"Rivers","t":"River","v":6.98,"j":0.17},{"c":"Rivers","t":"River","v":8.52,"j":0.17},{"c":"Rivers","t":"River","v":10.35,"j":0.17},{"c":"Rivers","t":"River","v":12.53,"j":0.17},{"c":"Rivers","t":"River","v":15.15,"j":0.17},{"c":"Rivers","t":"River","v":18.2,"j":0.17},{"c":"Rivers","t":"River","v":21.9,"j":0.17},{"c":"Rivers","t":"River","v":26.36,"j":0.17},{"c":"Rivers","t":"River","v":31.8,"j":0.17},{"c":"Rivers","t":"River","v":38.4,"j":0.17},{"c":"Rivers","t":"River","v":45.9,"j":0.17},{"c":"Rivers","t":"River","v":55.3,"j":0.17},
{"c":"Rivers","t":"River","v":54.9,"j":-0.17},
{"c":"Rivers","t":"River","v":61.4,"j":-0.13},
{"c":"Rivers","t":"River","v":68.7,"j":-0.18},
{"c":"Rivers","t":"River","v":76.8,"j":-0.1},
{"c":"Rivers","t":"River","v":58.1,"j":-0.04},
{"c":"Rivers","t":"River","v":66.1,"j":0.02},
{"c":"Rivers","t":"River","v":54.9,"j":0.07},
{"c":"Rivers","t":"River","v":63.8,"j":0.13},
{"c":"Rivers","t":"River","v":72.6,"j":0.18},
{"c":"Rivers","t":"River","v":57,"j":0.19},
{"c":"Rivers","t":"River","v":81.2,"j":0.09},
{"c":"Rivers","t":"River","v":85.8,"j":0.14},
{"c":"Rivers","t":"River","v":90.7,"j":0.02},
{"c":"Rivers","t":"River","v":76.8,"j":-0.04},
{"c":"Rivers","t":"River","v":59.5,"j":-0.09},
{"c":"Rivers","t":"River","v":95.9,"j":-0.08},
{"c":"Rivers","t":"River","v":68.7,"j":0.1},
{"c":"Rivers","t":"River","v":48,"j":-0.19},
{"c":"Rivers","t":"River","v":50.8,"j":-0.15},
{"c":"Rivers","t":"River","v":51.9,"j":-0.11},
{"c":"Rivers","t":"River","v":58.1,"j":0},
{"c":"Rivers","t":"River","v":65,"j":0.05},
{"c":"Rivers","t":"River","v":53.5,"j":0.15},
{"c":"Rivers","t":"River","v":61.4,"j":-0.02},
{"c":"Rivers","t":"River","v":72.6,"j":-0.14},
{"c":"Rivers","t":"River","v":68.7,"j":0.16},
{"c":"Rivers","t":"River","v":54.9,"j":0.11},
{"c":"Rivers","t":"River","v":251.5,"j":-0.19},
{"c":"Rivers","t":"River","v":271.6,"j":-0.16},
{"c":"Rivers","t":"River","v":271.6,"j":-0.14},
{"c":"Rivers","t":"River","v":399,"j":-0.14},
{"c":"Rivers","t":"River","v":594,"j":-0.19},
{"c":"Rivers","t":"River","v":1065,"j":-0.18},
{"c":"Rivers","t":"River","v":923,"j":-0.15},
{"c":"Rivers","t":"River","v":884,"j":-0.12},
{"c":"Rivers","t":"River","v":1358,"j":-0.14},
{"c":"Rivers","t":"River","v":2132,"j":-0.14},
{"c":"Rivers","t":"River","v":2018,"j":-0.1},
{"c":"Rivers","t":"River","v":2278,"j":-0.07},
{"c":"Rivers","t":"River","v":4360,"j":-0.13},
{"c":"Rivers","t":"River","v":4360,"j":-0.03},
{"c":"Rivers","t":"River","v":1271,"j":-0.07},
{"c":"Rivers","t":"River","v":1126,"j":-0.04},
{"c":"Rivers","t":"River","v":1020,"j":-0.01},
{"c":"Rivers","t":"River","v":1271,"j":0.1},
{"c":"Rivers","t":"River","v":1584,"j":0.12},
{"c":"Rivers","t":"River","v":1848,"j":0.07},
{"c":"Rivers","t":"River","v":2934,"j":0.07},
{"c":"Rivers","t":"River","v":2657,"j":0.17},
{"c":"Rivers","t":"River","v":1101,"j":0.17},
{"c":"Rivers","t":"River","v":893,"j":0.17},
{"c":"Rivers","t":"River","v":741,"j":0.15},
{"c":"Rivers","t":"River","v":874,"j":0.03},
{"c":"Rivers","t":"River","v":732,"j":0.03},
{"c":"Rivers","t":"River","v":664,"j":0.09},
{"c":"Rivers","t":"River","v":562,"j":0.11},
{"c":"Rivers","t":"River","v":538,"j":0.16},
{"c":"Rivers","t":"River","v":466,"j":0.06},
{"c":"Rivers","t":"River","v":427,"j":0.17},
{"c":"Rivers","t":"River","v":339,"j":0.17},
{"c":"Rivers","t":"River","v":387,"j":0.12},
{"c":"Rivers","t":"River","v":366,"j":0.07},
{"c":"Rivers","t":"River","v":297,"j":0.09},
{"c":"Rivers","t":"River","v":331,"j":0.01},
{"c":"Rivers","t":"River","v":391,"j":-0.05},
{"c":"Rivers","t":"River","v":493,"j":-0.09},
{"c":"Rivers","t":"River","v":594,"j":-0.07},
{"c":"Rivers","t":"River","v":635,"j":-0.12},
{"c":"Rivers","t":"River","v":741,"j":-0.13},
{"c":"Rivers","t":"River","v":757,"j":-0.1},
{"c":"Rivers","t":"River","v":293,"j":-0.04},
{"c":"Rivers","t":"River","v":269,"j":-0.1},
{"c":"Rivers","t":"River","v":241,"j":-0.04},
{"c":"Rivers","t":"River","v":230,"j":0.03},
{"c":"Rivers","t":"River","v":251,"j":0.03},
{"c":"Rivers","t":"River","v":241,"j":0.13},
{"c":"Rivers","t":"River","v":246,"j":0.15},
{"c":"Rivers","t":"River","v":208,"j":0.1},
{"c":"Rivers","t":"River","v":208,"j":-0.11},
{"c":"Rivers","t":"River","v":176.5,"j":-0.13},
{"c":"Rivers","t":"River","v":163,"j":-0.1},
{"c":"Rivers","t":"River","v":148,"j":-0.07},
{"c":"Rivers","t":"River","v":135,"j":0.02},
{"c":"Rivers","t":"River","v":128,"j":0.05},
{"c":"Rivers","t":"River","v":149.5,"j":0.13},
{"c":"Rivers","t":"River","v":141.5,"j":0.18},
{"c":"Rivers","t":"River","v":189,"j":-0.03},
{"c":"Rivers","t":"River","v":218,"j":-0.03},
{"c":"Rivers","t":"River","v":122.5,"j":-0.05},
{"c":"Rivers","t":"River","v":101.4,"j":-0.1},
{"c":"Rivers","t":"River","v":94.9,"j":-0.17},
{"c":"Rivers","t":"River","v":106,"j":-0.14},
{"c":"Rivers","t":"River","v":86.8,"j":-0.01},
{"c":"Rivers","t":"River","v":91.8,"j":0.05},
{"c":"Rivers","t":"River","v":110.8,"j":0.11},
{"c":"Rivers","t":"River","v":110.8,"j":0.18},
{"c":"Rivers","t":"River","v":122.5,"j":0.17},
{"c":"Rivers","t":"River","v":83,"j":0.18},
{"c":"Lakes and Reservoirs","t":"Reservoir","v":0,"j":-0.14},
{"c":"Lakes and Reservoirs","t":"Reservoir","v":0.13,"j":-0.09},
{"c":"Lakes and Reservoirs","t":"Lake","v":0.17,"j":-0.13},
{"c":"Lakes and Reservoirs","t":"Lake","v":0.37,"j":-0.14},
{"c":"Lakes and Reservoirs","t":"Lake","v":0.29,"j":-0.07},
{"c":"Lakes and Reservoirs","t":"Reservoir","v":0.41,"j":-0.07},
{"c":"Lakes and Reservoirs","t":"Lake","v":0.54,"j":-0.1},
{"c":"Lakes and Reservoirs","t":"Lake","v":0.69,"j":-0.06},
{"c":"Lakes and Reservoirs","t":"Lake","v":0.85,"j":-0.09},
{"c":"Lakes and Reservoirs","t":"Reservoir","v":0.57,"j":-0.02},
{"c":"Lakes and Reservoirs","t":"Reservoir","v":0.01,"j":0.02},
{"c":"Lakes and Reservoirs","t":"Lake","v":0.52,"j":0.04},
{"c":"Lakes and Reservoirs","t":"Lake","v":0.75,"j":0.03},
{"c":"Lakes and Reservoirs","t":"Lake","v":0.91,"j":0.07},
{"c":"Lakes and Reservoirs","t":"Reservoir","v":1.18,"j":0.04},
{"c":"Lakes and Reservoirs","t":"Reservoir","v":1.25,"j":0.01},
{"c":"Lakes and Reservoirs","t":"Lake","v":1.23,"j":-0.02},
{"c":"Lakes and Reservoirs","t":"Lake","v":0.15,"j":0.13},
{"c":"Lakes and Reservoirs","t":"Lake","v":0.41,"j":0.14},
{"c":"Lakes and Reservoirs","t":"Reservoir","v":0.31,"j":0.09},
{"c":"Lakes and Reservoirs","t":"Reservoir","v":0.37,"j":0.11},
{"c":"Lakes and Reservoirs","t":"Lake","v":1.49,"j":-0.14},
{"c":"Lakes and Reservoirs","t":"Lake","v":1.78,"j":-0.14},
{"c":"Lakes and Reservoirs","t":"Lake","v":2.03,"j":-0.1},
{"c":"Lakes and Reservoirs","t":"Lake","v":1.78,"j":-0.05},
{"c":"Lakes and Reservoirs","t":"Reservoir","v":1.63,"j":0.11},
{"c":"Lakes and Reservoirs","t":"Reservoir","v":1.97,"j":0.14},
{"c":"Lakes and Reservoirs","t":"Lake","v":1.78,"j":0.03},
{"c":"Lakes and Reservoirs","t":"Lake","v":2.03,"j":0.07},
{"c":"Lakes and Reservoirs","t":"Lake","v":2.31,"j":0.07},
{"c":"Lakes and Reservoirs","t":"Reservoir","v":2.61,"j":-0.02},
{"c":"Lakes and Reservoirs","t":"Reservoir","v":3.22,"j":-0.05},
{"c":"Lakes and Reservoirs","t":"Reservoir","v":3.46,"j":-0.02},
{"c":"Lakes and Reservoirs","t":"Lake","v":2.9,"j":0.02},
{"c":"Lakes and Reservoirs","t":"Lake","v":2.9,"j":0.05},
{"c":"Lakes and Reservoirs","t":"Lake","v":2.65,"j":0.14},
{"c":"Lakes and Reservoirs","t":"Lake","v":3.22,"j":0.14},
{"c":"Lakes and Reservoirs","t":"Reservoir","v":3.08,"j":0.09},
{"c":"Lakes and Reservoirs","t":"Lake","v":3.81,"j":0.11},
{"c":"Lakes and Reservoirs","t":"Lake","v":4.55,"j":0.11},
{"c":"Lakes and Reservoirs","t":"Reservoir","v":5.06,"j":0.15},
{"c":"Lakes and Reservoirs","t":"Lake","v":3.98,"j":0.02},
{"c":"Lakes and Reservoirs","t":"Reservoir","v":3.98,"j":-0.12},
{"c":"Lakes and Reservoirs","t":"Lake","v":4.14,"j":-0.14},
{"c":"Lakes and Reservoirs","t":"Lake","v":4.68,"j":-0.06},
{"c":"Lakes and Reservoirs","t":"Reservoir","v":4.37,"j":-0.06},
{"c":"Lakes and Reservoirs","t":"Reservoir","v":5.41,"j":-0.1},
{"c":"Lakes and Reservoirs","t":"Lake","v":5.77,"j":-0.03},
{"c":"Lakes and Reservoirs","t":"Lake","v":6.56,"j":-0.12},
{"c":"Lakes and Reservoirs","t":"Reservoir","v":6.56,"j":-0.08},
{"c":"Lakes and Reservoirs","t":"Reservoir","v":7.43,"j":-0.14},
{"c":"Lakes and Reservoirs","t":"Reservoir","v":7.92,"j":-0.04},
{"c":"Lakes and Reservoirs","t":"Lake","v":7.16,"j":0.02},
{"c":"Lakes and Reservoirs","t":"Lake","v":6.07,"j":0.14},
{"c":"Lakes and Reservoirs","t":"Lake","v":6.3,"j":0.16},
{"c":"Lakes and Reservoirs","t":"Reservoir","v":6.73,"j":0.08},
{"c":"Lakes and Reservoirs","t":"Reservoir","v":7.43,"j":0.11},
{"c":"Lakes and Reservoirs","t":"Reservoir","v":7.82,"j":0.07},
{"c":"Lakes and Reservoirs","t":"Lake","v":7.82,"j":0.16},
{"c":"Lakes and Reservoirs","t":"Lake","v":8.85,"j":0},
{"c":"Lakes and Reservoirs","t":"Reservoir","v":9.74,"j":0.02},
{"c":"Lakes and Reservoirs","t":"Reservoir","v":10.1,"j":-0.09},
{"c":"Lakes and Reservoirs","t":"Lake","v":10.6,"j":-0.14},
{"c":"Lakes and Reservoirs","t":"Lake","v":10.35,"j":-0.06},
{"c":"Lakes and Reservoirs","t":"Lake","v":12.39,"j":-0.12},
{"c":"Lakes and Reservoirs","t":"Lake","v":13.14,"j":-0.14},
{"c":"Lakes and Reservoirs","t":"Lake","v":12.7,"j":0.04},
{"c":"Lakes and Reservoirs","t":"Lake","v":12.7,"j":0.07},
{"c":"Lakes and Reservoirs","t":"Lake","v":14.3,"j":-0.02},
{"c":"Lakes and Reservoirs","t":"Reservoir","v":12.1,"j":0.14},
{"c":"Lakes and Reservoirs","t":"Reservoir","v":15.68,"j":-0.14},
{"c":"Lakes and Reservoirs","t":"Lake","v":17,"j":-0.11},
{"c":"Lakes and Reservoirs","t":"Lake","v":19.3,"j":-0.14},
{"c":"Lakes and Reservoirs","t":"Lake","v":16.1,"j":0.05},
{"c":"Lakes and Reservoirs","t":"Reservoir","v":16.6,"j":0.02},
{"c":"Lakes and Reservoirs","t":"Reservoir","v":17.6,"j":-0.01},
{"c":"Lakes and Reservoirs","t":"Lake","v":17.6,"j":0.14},
{"c":"Lakes and Reservoirs","t":"Reservoir","v":18.2,"j":0.1},
{"c":"Lakes and Reservoirs","t":"Lake","v":20.96,"j":0.14},
{"c":"Lakes and Reservoirs","t":"Lake","v":19.8,"j":0.04},
{"c":"Lakes and Reservoirs","t":"Reservoir","v":20.5,"j":0.04},
{"c":"Lakes and Reservoirs","t":"Lake","v":19.1,"j":-0.06},
{"c":"Lakes and Reservoirs","t":"Reservoir","v":22.2,"j":-0.06},
{"c":"Lakes and Reservoirs","t":"Lake","v":24.1,"j":-0.08},
{"c":"Lakes and Reservoirs","t":"Reservoir","v":28.6,"j":-0.11},
{"c":"Lakes and Reservoirs","t":"Lake","v":24.3,"j":0},
{"c":"Lakes and Reservoirs","t":"Lake","v":27.2,"j":-0.02},
{"c":"Lakes and Reservoirs","t":"Reservoir","v":26.9,"j":0.11},
{"c":"Lakes and Reservoirs","t":"Lake","v":30.9,"j":0.13},
{"c":"Lakes and Reservoirs","t":"Reservoir","v":26.4,"j":0.13},
{"c":"Lakes and Reservoirs","t":"Reservoir","v":29.5,"j":0.02},
{"c":"Lakes and Reservoirs","t":"Reservoir","v":33.1,"j":0.04},
{"c":"Lakes and Reservoirs","t":"Reservoir","v":36.4,"j":0.07},
{"c":"Lakes and Reservoirs","t":"Lake","v":33.1,"j":-0.01},
{"c":"Lakes and Reservoirs","t":"Reservoir","v":33.8,"j":-0.07},
{"c":"Lakes and Reservoirs","t":"Reservoir","v":39.2,"j":-0.14},
{"c":"Lakes and Reservoirs","t":"Lake","v":40.6,"j":0.14},
{"c":"Lakes and Reservoirs","t":"Lake","v":40.1,"j":0},
{"c":"Lakes and Reservoirs","t":"Lake","v":45.4,"j":0.08},
{"c":"Lakes and Reservoirs","t":"Lake","v":45.4,"j":-0.14},
{"c":"Lakes and Reservoirs","t":"Reservoir","v":44.9,"j":-0.04},
{"c":"Lakes and Reservoirs","t":"Reservoir","v":50.2,"j":0.02},
{"c":"Lakes and Reservoirs","t":"Reservoir","v":51.9,"j":0.14},
{"c":"Lakes and Reservoirs","t":"Reservoir","v":59.2,"j":0.13},
{"c":"Lakes and Reservoirs","t":"Reservoir","v":63.3,"j":0.12},
{"c":"Lakes and Reservoirs","t":"Lake","v":56.1,"j":-0.1},
{"c":"Lakes and Reservoirs","t":"Lake","v":54.9,"j":-0.05},
{"c":"Lakes and Reservoirs","t":"Reservoir","v":55.5,"j":-0.06},
{"c":"Lakes and Reservoirs","t":"Lake","v":59.8,"j":0.07},
{"c":"Lakes and Reservoirs","t":"Lake","v":56.8,"j":0},
{"c":"Lakes and Reservoirs","t":"Lake","v":63.9,"j":-0.14},
{"c":"Lakes and Reservoirs","t":"Reservoir","v":70.2,"j":-0.04},
{"c":"Lakes and Reservoirs","t":"Reservoir","v":76.8,"j":-0.09},
{"c":"Lakes and Reservoirs","t":"Lake","v":84.4,"j":-0.12},
{"c":"Lakes and Reservoirs","t":"Lake","v":87.8,"j":-0.02},
{"c":"Lakes and Reservoirs","t":"Reservoir","v":84.4,"j":0.03},
{"c":"Lakes and Reservoirs","t":"Reservoir","v":87.8,"j":0.11},
{"c":"Lakes and Reservoirs","t":"Lake","v":81.2,"j":0.08},
{"c":"Lakes and Reservoirs","t":"Lake","v":84.4,"j":0.14},
{"c":"Lakes and Reservoirs","t":"Lake","v":105,"j":0.14},
{"c":"Lakes and Reservoirs","t":"Lake","v":126.6,"j":0.14},
{"c":"Lakes and Reservoirs","t":"Reservoir","v":116.6,"j":0.04},
{"c":"Lakes and Reservoirs","t":"Reservoir","v":126.6,"j":-0.01},
{"c":"Lakes and Reservoirs","t":"Lake","v":118,"j":-0.14},
{"c":"Lakes and Reservoirs","t":"Reservoir","v":113.3,"j":-0.1},
{"c":"Lakes and Reservoirs","t":"Reservoir","v":141.5,"j":-0.1},
{"c":"Lakes and Reservoirs","t":"Lake","v":133.8,"j":-0.05},
{"c":"Lakes and Reservoirs","t":"Lake","v":146.8,"j":0.04},
{"c":"Lakes and Reservoirs","t":"Reservoir","v":153.7,"j":0.07},
{"c":"Lakes and Reservoirs","t":"Lake","v":105,"j":0},
{"c":"Lakes and Reservoirs","t":"Lake","v":98,"j":0.07},
{"c":"Lakes and Reservoirs","t":"Lake","v":153.7,"j":-0.13},
{"c":"Lakes and Reservoirs","t":"Reservoir","v":139,"j":-0.06},
{"c":"Lakes and Reservoirs","t":"Lake","v":131.1,"j":-0.02},
{"c":"Lakes and Reservoirs","t":"Lake","v":144.7,"j":0.05},
{"c":"Lakes and Reservoirs","t":"Reservoir","v":158,"j":0.07},
{"c":"Lakes and Reservoirs","t":"Lake","v":131.1,"j":0.14},
{"c":"Lakes and Reservoirs","t":"Reservoir","v":196,"j":-0.12},
{"c":"Lakes and Reservoirs","t":"Lake","v":183.5,"j":-0.08},
{"c":"Lakes and Reservoirs","t":"Lake","v":204.8,"j":-0.05},
{"c":"Lakes and Reservoirs","t":"Lake","v":204.8,"j":-0.02},
{"c":"Lakes and Reservoirs","t":"Lake","v":228.7,"j":-0.01},
{"c":"Lakes and Reservoirs","t":"Lake","v":193.9,"j":0.04},
{"c":"Lakes and Reservoirs","t":"Lake","v":191.7,"j":0.08},
{"c":"Lakes and Reservoirs","t":"Lake","v":171.8,"j":0.1},
{"c":"Lakes and Reservoirs","t":"Reservoir","v":186.6,"j":0.15},
{"c":"Lakes and Reservoirs","t":"Lake","v":220.2,"j":0.14},
{"c":"Lakes and Reservoirs","t":"Lake","v":245.9,"j":0.04},
{"c":"Lakes and Reservoirs","t":"Reservoir","v":240.6,"j":0.1},
{"c":"Lakes and Reservoirs","t":"Lake","v":259.9,"j":0.15},
{"c":"Lakes and Reservoirs","t":"Lake","v":281.8,"j":-0.07},
{"c":"Lakes and Reservoirs","t":"Lake","v":306.7,"j":-0.08},
{"c":"Lakes and Reservoirs","t":"Lake","v":335.8,"j":-0.09},
{"c":"Lakes and Reservoirs","t":"Lake","v":361.9,"j":-0.05},
{"c":"Lakes and Reservoirs","t":"Lake","v":274.6,"j":-0.02},
{"c":"Lakes and Reservoirs","t":"Reservoir","v":324.1,"j":-0.01},
{"c":"Lakes and Reservoirs","t":"Reservoir","v":290.2,"j":0.04},
{"c":"Lakes and Reservoirs","t":"Reservoir","v":306.7,"j":0.05},
{"c":"Lakes and Reservoirs","t":"Lake","v":342.4,"j":0.08},
{"c":"Lakes and Reservoirs","t":"Lake","v":382.4,"j":0.03},
{"c":"Lakes and Reservoirs","t":"Lake","v":413.9,"j":0.07},
{"c":"Lakes and Reservoirs","t":"Reservoir","v":391.7,"j":0.1},
{"c":"Lakes and Reservoirs","t":"Reservoir","v":342.4,"j":0.15},
{"c":"Lakes and Reservoirs","t":"Reservoir","v":441.4,"j":-0.01},
{"c":"Lakes and Reservoirs","t":"Lake","v":461.9,"j":-0.12},
{"c":"Lakes and Reservoirs","t":"Lake","v":493.3,"j":-0.09},
{"c":"Lakes and Reservoirs","t":"Reservoir","v":550.4,"j":-0.06},
{"c":"Lakes and Reservoirs","t":"Lake","v":521.6,"j":-0.03},
{"c":"Lakes and Reservoirs","t":"Lake","v":594.3,"j":0.01},
{"c":"Lakes and Reservoirs","t":"Reservoir","v":576.1,"j":0.05},
{"c":"Lakes and Reservoirs","t":"Lake","v":582.4,"j":0.07},
{"c":"Lakes and Reservoirs","t":"Reservoir","v":521.6,"j":0.11},
{"c":"Lakes and Reservoirs","t":"Reservoir","v":488,"j":0.15},
{"c":"Lakes and Reservoirs","t":"Lake","v":642.8,"j":-0.09},
{"c":"Lakes and Reservoirs","t":"Lake","v":650,"j":0.13},
{"c":"Lakes and Reservoirs","t":"Lake","v":717.8,"j":0.04},
{"c":"Lakes and Reservoirs","t":"Reservoir","v":783,"j":0.1},
{"c":"Lakes and Reservoirs","t":"Lake","v":766,"j":0.14},
{"c":"Lakes and Reservoirs","t":"Reservoir","v":801,"j":-0.11},
{"c":"Lakes and Reservoirs","t":"Lake","v":846.7,"j":-0.14},
{"c":"Lakes and Reservoirs","t":"Lake","v":783,"j":-0.05},
{"c":"Lakes and Reservoirs","t":"Lake","v":874,"j":-0.03},
{"c":"Lakes and Reservoirs","t":"Lake","v":1007,"j":0.04},
{"c":"Lakes and Reservoirs","t":"Lake","v":1151,"j":-0.04},
{"c":"Lakes and Reservoirs","t":"Lake","v":1216,"j":0.1},
{"c":"Lakes and Reservoirs","t":"Lake","v":1484,"j":0.09},
{"c":"Lakes and Reservoirs","t":"Lake","v":1869,"j":-0.12},
{"c":"Lakes and Reservoirs","t":"Reservoir","v":2156,"j":-0.15},
{"c":"Lakes and Reservoirs","t":"Reservoir","v":2304,"j":-0.05},
{"c":"Lakes and Reservoirs","t":"Lake","v":2543,"j":-0.02}
]
},
"encoding": {
"y": {"field": "c", "type": "nominal",
 "scale": {"domain": ["Rivers", "Lakes and Reservoirs"], "paddingInner": 0, "paddingOuter": 0.1548, "align": 0.714},
 "axis": {"title": null, "domain": false, "ticks": false, "tickSize": 0, "grid": false, "labelFont": "Liberation Sans", "labelFontSize": 48, "labelColor": "black", "labelAlign": "left", "labelBaseline": "alphabetic", "labelPadding": 40, "labelLimit": 0, "labelOverlap": false, "labelBound": false}},
"x": {"field": "v", "type": "quantitative",
 "scale": {"type": "symlog", "constant": 1, "domain": [-195.8, 8690], "nice": false, "zero": false},
 "axis": {"title": "Total Methane, mgCH₄ m⁻² d⁻¹",
  "values": [-100, -9.25, 0, 2.17, 10, 21.1, 50, 69.8, 100, 223.4, 500, 702, 1000, 2250, 5000],
  "labelExpr": "indexof([-100,0,10,50,100,500,1000,5000], datum.value) >= 0 ? '' + datum.value : ''",
  "tickOpacity": {"condition": {"test": "indexof([-100,0,10,50,100,500,1000,5000], datum.value) < 0", "value": 0}, "value": 1},
  "labelOverlap": false, "labelFlush": false, "labelFont": "Liberation Sans", "labelFontSize": 29, "labelColor": "#4d4d4d", "labelPadding": 12,
  "titleFont": "Liberation Sans", "titleFontSize": 30, "titleFontWeight": "normal", "titleColor": "black", "titlePadding": 19,
  "domainColor": "black", "domainWidth": 3, "tickColor": "#333333", "tickWidth": 1.5, "tickSize": 6,
  "grid": true, "gridColor": "#ebebeb", "gridWidth": 1.3}}
},
"layer": [
{"data": {"name": "whisk"}, "mark": {"type": "rule", "color": "#333333", "strokeWidth": 1.5}, "encoding": {"x2": {"field": "v2"}}},
{"data": {"name": "box"}, "transform": [{"filter": "datum.c === 'Rivers'"}], "mark": {"type": "bar", "height": 162, "fill": "white", "stroke": "#333333", "strokeWidth": 1.8}, "encoding": {"x2": {"field": "v2"}}},
{"data": {"name": "box"}, "transform": [{"filter": "datum.c !== 'Rivers'"}], "mark": {"type": "bar", "height": 133, "fill": "white", "stroke": "#333333", "strokeWidth": 1.8}, "encoding": {"x2": {"field": "v2"}}},
{"data": {"name": "med"}, "transform": [{"filter": "datum.c === 'Rivers'"}], "mark": {"type": "tick", "orient": "vertical", "size": 162, "thickness": 3, "color": "#222222", "opacity": 1}},
{"data": {"name": "med"}, "transform": [{"filter": "datum.c !== 'Rivers'"}], "mark": {"type": "tick", "orient": "vertical", "size": 133, "thickness": 3, "color": "#222222", "opacity": 1}},
{"data": {"name": "pts"}, "mark": {"type": "circle", "size": 240, "opacity": 0.75, "stroke": null},
 "encoding": {
  "yOffset": {"field": "j", "type": "quantitative", "scale": {"domain": [-0.5, 0.5], "range": [0, 294]}},
  "color": {"field": "t", "type": "nominal",
   "scale": {"domain": ["Lake", "Reservoir", "River"], "range": ["#2D5B8A", "#B8DE29", "#00008B"]},
   "legend": {"title": "Waterbody type", "values": ["Lake", "Reservoir"], "orient": "none", "legendX": 375, "legendY": 833, "direction": "horizontal", "titleOrient": "left", "titleLimit": 500, "titleFont": "Liberation Sans", "titleFontSize": 29, "titleFontWeight": "normal", "titleColor": "black", "titlePadding": 88, "labelFont": "Liberation Sans", "labelFontSize": 29, "labelColor": "black", "labelLimit": 400, "labelOffset": 15, "symbolSize": 260, "symbolOpacity": 0.75, "symbolStrokeWidth": 0, "symbolType": "circle", "columnPadding": -16}}
 }}
]
}
